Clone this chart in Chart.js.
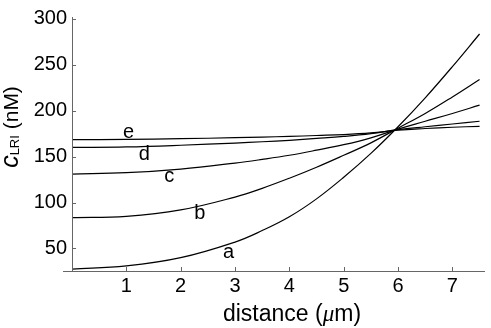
<!DOCTYPE html>
<html>
<head>
<meta charset="utf-8">
<script src="https://cdn.jsdelivr.net/npm/chart.js@4.4.1/dist/chart.umd.min.js"></script>
<style>
  body { margin: 0; background: #fff; }
  canvas { display: block; }
</style>
</head>
<body>
<canvas id="chart" width="491" height="328"></canvas>
<script>
// distance (um) sample points
const distances = [0, 1, 2, 3, 3.5, 4, 4.5, 5, 5.5, 6, 6.5, 7, 7.5];
// concentration c_LRI (nM) per curve
const curveA = [27.5, 31, 40, 57, 69.5, 84.5, 104, 127.5, 153.5, 182.5, 214, 248, 283.5];
const curveB = [83.5, 85, 92, 106, 115.5, 126.5, 138.5, 151.5, 165, 181, 197, 215, 234];
const curveC = [131, 132.5, 136.5, 143, 147, 151.5, 157, 163, 170.5, 180, 188.5, 197, 206];
const curveD = [160, 160.6, 162.4, 164.8, 166.2, 167.8, 169.8, 172, 175, 179.3, 182.5, 185.5, 188.5];
const curveE = [168.5, 168.8, 169.5, 170.6, 171.3, 172, 173, 174, 175.8, 178.8, 180.6, 182, 183];
const curveNames = ['a', 'b', 'c', 'd', 'e'];
// where each curve letter sits (data coords)
const labelX = [2.88, 2.35, 1.79, 1.33, 1.04];
const labelY = [46, 88, 128.5, 152, 176];

const xTicks = [1, 2, 3, 4, 5, 6, 7];
const yTicks = [50, 100, 150, 200, 250, 300];

const FONT = "'Liberation Sans', Arial, sans-serif";

function toPoints(ys) {
    return distances.map((x, i) => ({ x: x, y: ys[i] }));
}

const decorations = {
    id: 'decorations',
    afterDraw(chart) {
        const ctx = chart.ctx;
        const xs = chart.scales.x, ys = chart.scales.y;
        const area = chart.chartArea;
        ctx.save();
        // axes lines
        ctx.strokeStyle = '#666';
        ctx.lineWidth = 1;
        ctx.beginPath();
        ctx.moveTo(area.left - 9, area.bottom + 0.5);
        ctx.lineTo(area.right, area.bottom + 0.5);
        ctx.moveTo(area.left + 0.5, area.top);
        ctx.lineTo(area.left + 0.5, area.bottom);
        // inward tick marks
        xTicks.forEach(v => {
            const px = Math.round(xs.getPixelForValue(v)) + 0.5;
            ctx.moveTo(px, area.bottom);
            ctx.lineTo(px, area.bottom - 4);
        });
        yTicks.forEach(v => {
            const py = Math.round(ys.getPixelForValue(v)) + 0.5;
            ctx.moveTo(area.left, py);
            ctx.lineTo(area.left + 4, py);
        });
        ctx.stroke();

        // curve letters
        ctx.fillStyle = '#000';
        ctx.font = '20px ' + FONT;
        ctx.textAlign = 'center';
        ctx.textBaseline = 'middle';
        curveNames.forEach((n, i) => {
            ctx.fillText(n, xs.getPixelForValue(labelX[i]), ys.getPixelForValue(labelY[i]));
        });

        // x title: distance (μm)
        ctx.textBaseline = 'alphabetic';
        ctx.textAlign = 'left';
        const parts = [
            { t: 'distance (', f: '23px ' + FONT },
            { t: 'μ', f: 'italic 23px "Liberation Serif", serif' },
            { t: 'm)', f: '23px ' + FONT }
        ];
        let total = 0;
        parts.forEach(p => { ctx.font = p.f; p.w = ctx.measureText(p.t).width; total += p.w; });
        let cx = 292 - total / 2;
        parts.forEach(p => { ctx.font = p.f; ctx.fillText(p.t, cx, 321); cx += p.w; });

        // y title: c_LRI (nM), rotated
        ctx.translate(18, 127);
        ctx.rotate(-Math.PI / 2);
        const yparts = [
            { t: 'c', f: 'italic 25px ' + FONT, dy: 0 },
            { t: 'LRI', f: '13px ' + FONT, dy: 1 },
            { t: ' (nM)', f: '21px ' + FONT, dy: 0 }
        ];
        total = 0;
        yparts.forEach(p => { ctx.font = p.f; p.w = ctx.measureText(p.t).width; total += p.w; });
        cx = -total / 2;
        yparts.forEach(p => { ctx.font = p.f; ctx.fillText(p.t, cx, p.dy); cx += p.w; });
        ctx.restore();
    }
};

const series = [curveA, curveB, curveC, curveD, curveE];

new Chart(document.getElementById('chart'), {
    type: 'scatter',
    data: {
        datasets: series.map((ys, i) => ({
            label: curveNames[i],
            data: toPoints(ys),
            showLine: true,
            borderColor: '#000',
            borderWidth: 1.2,
            pointRadius: 0,
            tension: 0.4,
            fill: false
        }))
    },
    options: {
        responsive: false,
        animation: false,
        layout: { padding: { top: 12, right: 6, left: 0, bottom: 0 } },
        plugins: {
            legend: { display: false },
            tooltip: { enabled: false }
        },
        scales: {
            x: {
                type: 'linear',
                min: 0,
                max: 7.6,
                afterBuildTicks: s => { s.ticks = xTicks.map(v => ({ value: v })); },
                afterFit: s => { s.height = 57; },
                grid: { display: false, drawTicks: false },
                border: { display: false },
                ticks: { color: '#000', font: { family: FONT, size: 20 }, padding: 3, maxRotation: 0 }
            },
            y: {
                min: 25.5,
                max: 302,
                afterBuildTicks: s => { s.ticks = yTicks.map(v => ({ value: v })); },
                afterFit: s => { s.width = 72; },
                grid: { display: false, drawTicks: false },
                border: { display: false },
                ticks: { color: '#000', font: { family: FONT, size: 20 }, padding: 5 }
            }
        }
    },
    plugins: [decorations]
});
</script>
</body>
</html>
